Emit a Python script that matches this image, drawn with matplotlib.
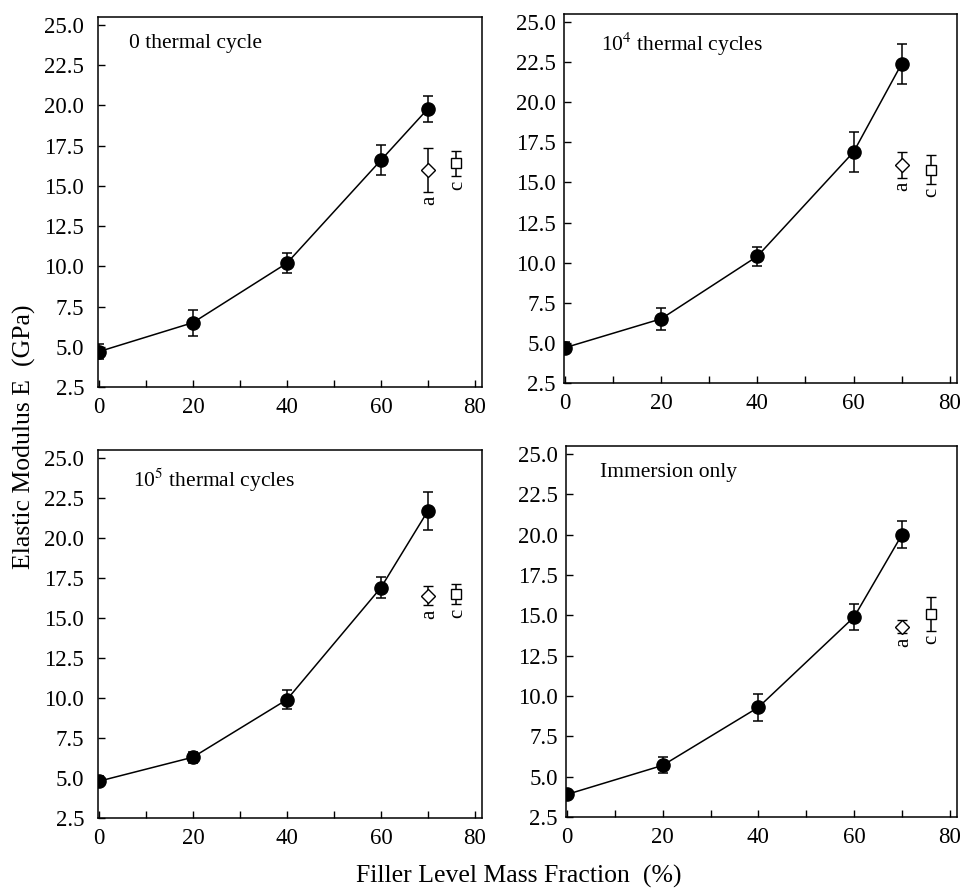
import matplotlib
matplotlib.use("Agg")
import matplotlib.pyplot as plt
from matplotlib.ticker import MultipleLocator, FormatStrFormatter

plt.rcParams['font.family'] = ['Liberation Serif', 'DejaVu Serif']
plt.rcParams['mathtext.fontset'] = 'stix'

# filler level (%)
filler = [0, 20, 40, 60, 70]

# panel titles
titles = ["0 thermal cycle", "10$^4$ thermal cycles", "10$^5$ thermal cycles", "Immersion only"]

# elastic modulus of the main series (GPa) and error
modulus = [
    [4.7, 6.5, 10.2, 16.6, 19.8],
    [4.7, 6.5, 10.4, 16.9, 22.4],
    [4.8, 6.3, 9.9, 16.9, 21.7],
    [3.9, 5.7, 9.3, 14.9, 20.0],
]
modulus_err = [
    [0.45, 0.8, 0.6, 0.95, 0.8],
    [0.35, 0.7, 0.6, 1.25, 1.25],
    [0.3, 0.35, 0.6, 0.65, 1.2],
    [0.25, 0.5, 0.85, 0.8, 0.85],
]

# extra points "a" (diamond) and "c" (square)
a_x = 70
c_x = 76
a_val = [16.0, 16.1, 16.4, 14.3]
a_err = [1.35, 0.8, 0.6, 0.4]
c_val = [16.4, 15.8, 16.5, 15.1]
c_err = [0.8, 0.9, 0.65, 1.05]

fig = plt.figure(figsize=(9.62, 8.94), dpi=100)
W, H = 962, 894
boxes = [
    (98, 17, 482, 387),
    (564, 14, 957, 383),
    (98, 450, 482, 818),
    (566, 446, 957, 817),
]
title_x = [0.08, 0.095, 0.09, 0.088]
ypad = [10, 6, 10, 6]

for i, (x0, y0, x1, y1) in enumerate(boxes):
    ax = fig.add_axes([x0 / W, 1 - y1 / H, (x1 - x0) / W, (y1 - y0) / H])
    ax.errorbar(filler, modulus[i], yerr=modulus_err[i], color='black', lw=1.1,
                marker='o', ms=9.5, capsize=3.3, elinewidth=1.1, capthick=1.1)
    ax.errorbar([a_x], [a_val[i]], yerr=[a_err[i]], color='black', marker='D',
                ms=7, mfc='white', mew=1.0, capsize=3.3, elinewidth=1.1, capthick=1.1)
    ax.errorbar([c_x], [c_val[i]], yerr=[c_err[i]], color='black', marker='s',
                ms=7, mfc='white', mew=1.0, capsize=3.3, elinewidth=1.1, capthick=1.1)
    ax.text(a_x + 0.3, a_val[i] - a_err[i] - 0.25, "a", rotation=90, ha='center', va='top', fontsize=15)
    ax.text(c_x + 0.3, c_val[i] - c_err[i] - 0.25, "c", rotation=90, ha='center', va='top', fontsize=15)
    ax.text(title_x[i], 0.955, titles[i], transform=ax.transAxes, ha='left', va='top', fontsize=15.5)

    ax.set_xlim(-0.2, 81.5)
    ax.set_ylim(2.5, 25.5)
    ax.xaxis.set_major_locator(MultipleLocator(20))
    ax.xaxis.set_minor_locator(MultipleLocator(10))
    ax.yaxis.set_major_locator(MultipleLocator(2.5))
    ax.yaxis.set_major_formatter(FormatStrFormatter('%.1f'))
    ax.tick_params(direction='in', which='both', labelsize=16.5, length=5, width=1)
    ax.tick_params(axis='x', pad=7)
    ax.tick_params(axis='y', pad=ypad[i])
    for s in ax.spines.values():
        s.set_linewidth(1.1)

fig.text(519 / W, 1 - 876 / H, "Filler Level Mass Fraction  (%)", ha='center', va='center', fontsize=18.5)
fig.text(24 / W, 1 - 437 / H, "Elastic Modulus E  (GPa)", ha='center', va='center', rotation=90, fontsize=18.5)

fig.savefig("out.png", dpi=100)
